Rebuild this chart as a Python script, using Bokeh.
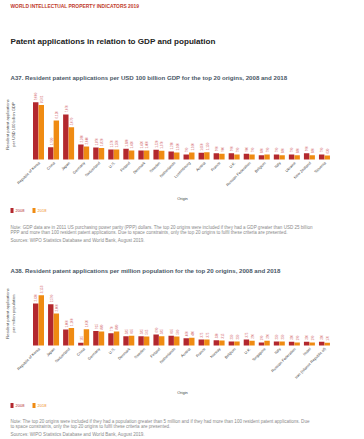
import math
from bokeh.plotting import figure
from bokeh.models import ColumnDataSource, Range1d, Label
from bokeh.transform import dodge
from bokeh.embed import file_html
from bokeh.resources import INLINE
from bokeh.core.properties import value

FONT = "Liberation Sans"
RED = "#b3282e"
ORANGE = "#ef8b12"
LBLCOL = "#cf5b61"
GREY = "#8a8a8a"
TITLECOL = "#4a5866"

# ---------------- data ----------------
gdp_origins = ["Republic of Korea", "China", "Japan", "Germany", "Switzerland", "U.S.",
               "Finland", "Denmark", "Sweden", "Netherlands", "Luxembourg", "Austria",
               "France", "U.K.", "Russian Federation", "Belgium", "Italy", "Ukraine",
               "New Zealand", "Slovenia"]
gdp_2008 = [9000, 1930, 7070, 2360, 1870, 1570, 1680, 1420, 1520, 1260,
            790, 1050, 990, 990, 900, 680, 790, 790, 990, 790]
gdp_2018 = [8561, 6120, 5070, 2040, 1820, 1560, 1410, 1400, 1370, 1100,
            1100, 1150, 900, 790, 790, 790, 680, 680, 680, 630]

pop_origins = ["Republic of Korea", "Japan", "Switzerland", "China", "Germany", "U.S.",
               "Denmark", "Sweden", "Finland", "Netherlands", "Austria", "France",
               "Norway", "Belgium", "U.K.", "Singapore", "Italy", "Russian Federation",
               "Israel", "Iran (Islamic Republic of)"]
pop_2008 = [2630, 2590, 1000, 165, 915, 770, 585, 585, 690, 605,
            460, 375, 330, 250, 375, 190, 250, 230, 230, 230]
pop_2018 = [3153, 2000, 1100, 1020, 880, 880, 605, 565, 585, 560,
            480, 375, 315, 250, 290, 290, 250, 190, 190, 170]

years = ["2008", "2018"]

header = "WORLD INTELLECTUAL PROPERTY INDICATORS 2019"
main_title = "Patent applications in relation to GDP and population"
a37_title = "A37. Resident patent applications per USD 100 billion GDP for the top 20 origins, 2008 and 2018"
a37_ylabel = "Resident patent applications\nper USD 100 billion GDP"
a37_notes = ["Note: GDP data are in 2011 US purchasing power parity (PPP) dollars. The top 20 origins were included if they had a GDP greater than USD 25 billion",
             "PPP and more than 100 resident patent applications. Due to space constraints, only the top 20 origins to fulfil these criteria are presented."]
a38_title = "A38. Resident patent applications per million population for the top 20 origins, 2008 and 2018"
a38_ylabel = "Resident patent applications\nper million population"
a38_notes = ["Note: The top 20 origins were included if they had a population greater than 5 million and if they had more than 100 resident patent applications. Due",
             "to space constraints, only the top 20 origins to fulfil these criteria are presented."]
sources = "Sources: WIPO Statistics Database and World Bank, August 2019."

W, H = 364, 438

# One canvas for the whole page.  Main x range: category index (both panels share
# the same 20-slot layout); "pg" range: page pixels for the text annotations;
# "c1"/"c2": value axes of the two bar panels.
p = figure(width=W, height=H, x_range=Range1d(-2.525, 21.66), y_range=Range1d(H, 0),
           min_border=0, x_axis_location=None, y_axis_location=None, title=None,
           output_backend="svg", toolbar_location=None, tools="")
p.extra_x_ranges = {"pg": Range1d(0, W)}
p.extra_y_ranges = {"c1": Range1d(-(H - 159) * 157, 159 * 157),
                    "c2": Range1d(-(H - 345) * 62.7, 345 * 62.7)}
p.outline_line_color = None
p.xgrid.visible = False
p.ygrid.visible = False


def lab(text, x, y, size, color, bold=False, align="left", angle=0.0):
    p.add_layout(Label(x=x, y=y, x_range_name="pg", text=text,
                       text_font=FONT, text_font_size=size, text_color=color,
                       text_font_style="bold" if bold else "normal",
                       text_align=align, text_baseline="middle", angle=angle,
                       text_line_height=1.15))


def legend_row(y):
    for yr, col, px in ((years[0], RED, 10), (years[1], ORANGE, 32)):
        p.quad(left=px, right=px + 3, top=y - 2.5, bottom=y + 2.5, x_range_name="pg",
               fill_color=col, line_color=None)
        lab(yr, px + 5, y, "4px", col)


def panel(origins, v08, v18, rng):
    src = ColumnDataSource(dict(idx=list(range(len(origins))), origin=origins,
                                v08=v08, v18=v18,
                                l08=[f"{v:,}" for v in v08],
                                l18=[f"{v:,}" for v in v18]))
    p.vbar(x=dodge("idx", -0.185), top="v08", bottom=0, width=0.36, source=src,
           y_range_name=rng, fill_color=RED, line_color=None)
    p.vbar(x=dodge("idx", 0.185), top="v18", bottom=0, width=0.36, source=src,
           y_range_name=rng, fill_color=ORANGE, line_color=None)
    for off, col, vcol in ((-0.185, "l08", "v08"), (0.185, "l18", "v18")):
        p.text(x=dodge("idx", off), y=vcol, text=col, source=src, y_range_name=rng,
               angle=math.pi / 2, text_align="left", text_baseline="middle",
               text_font=value(FONT), text_font_size="3px", text_color=LBLCOL,
               y_offset=-2)
    # category (tick) labels, rotated 45 degrees and ending under each pair of bars
    p.text(x="idx", y=0, text="origin", source=src, y_range_name=rng,
           angle=math.pi / 4, text_align="right", text_baseline="middle",
           text_font=value(FONT), text_font_size="3.8px", text_color="#444444",
           x_offset=1, y_offset=3)


# ---------- header ----------
lab(header, 10, 6, "4.9px", "#c0392b", bold=True)
lab(main_title, 10, 41, "8.1px", "#222222", bold=True)

# ---------- A37 ----------
lab(a37_title, 10, 77, "6.1px", TITLECOL, bold=True)
panel(gdp_origins, gdp_2008, gdp_2018, "c1")
lab(a37_ylabel, 10, 124, "4px", "#444444", align="center", angle=math.pi / 2)
lab("Origin", 182, 198, "4px", "#444444", align="center")
legend_row(210)
lab(a37_notes[0], 10, 226.7, "4.55px", GREY)
lab(a37_notes[1], 10, 231.5, "4.55px", GREY)
lab(sources, 10, 240, "4.55px", GREY)

# ---------- A38 ----------
lab(a38_title, 10, 270, "6.1px", TITLECOL, bold=True)
panel(pop_origins, pop_2008, pop_2018, "c2")
lab(a38_ylabel, 10, 313, "4px", "#444444", align="center", angle=math.pi / 2)
lab("Origin", 182, 391.7, "4px", "#444444", align="center")
legend_row(405)
lab(a38_notes[0], 10, 420.7, "4.55px", GREY)
lab(a38_notes[1], 10, 425.6, "4.55px", GREY)
lab(sources, 10, 434, "4.55px", GREY)

open("out.html", "w").write(file_html(p, INLINE))
